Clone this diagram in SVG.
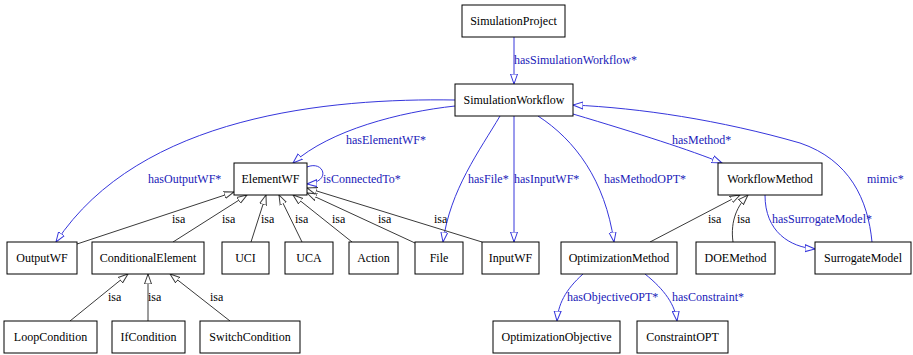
<svg xmlns="http://www.w3.org/2000/svg" width="913" height="355" viewBox="0 0 913 355">
<style>
.n rect{fill:#fff;stroke:#000;stroke-width:1}
.n text{font-family:"Liberation Serif","Times New Roman",serif;font-size:12px;text-anchor:middle;fill:#000}
.b{fill:none;stroke:#3636dc;stroke-width:1;marker-end:url(#ab)}
.k{fill:none;stroke:#3a3a3a;stroke-width:1;marker-end:url(#ak)}
.lb{font-family:"Liberation Serif","Times New Roman",serif;font-size:12px;fill:#2020b8}
.lk{font-family:"Liberation Serif","Times New Roman",serif;font-size:12px;fill:#000}
</style>
<defs>
<marker id="ab" markerUnits="userSpaceOnUse" markerWidth="12" markerHeight="10" refX="10" refY="4" orient="auto" viewBox="0 0 12 8"><path d="M0,0.5 L10,4 L0,7.5 Z" fill="#fff" stroke="#3636dc" stroke-width="1"/></marker>
<marker id="ak" markerUnits="userSpaceOnUse" markerWidth="12" markerHeight="10" refX="10" refY="4" orient="auto" viewBox="0 0 12 8"><path d="M0,0.5 L10,4 L0,7.5 Z" fill="#fff" stroke="#3a3a3a" stroke-width="1"/></marker>
</defs>
<rect width="913" height="355" fill="#fff"/>
<g id="connectors">
<path class="b" d="M514,37 L514,84"/>
<path class="b" d="M455,106 C400,112 330,130 293,163"/>
<path class="b" d="M455,100 C330,98 140,115 56,242"/>
<path class="b" d="M500,116 C480,150 450,190 443,242"/>
<path class="b" d="M514,116 L514,242"/>
<path class="b" d="M538,116 C575,140 605,180 614,242"/>
<path class="b" d="M573,114 C640,134 690,150 722,163"/>
<path class="b" d="M872,242 C868,200 850,160 800,143 C720,120 640,108 573,105"/>
<path class="b" d="M765,195 C765,232 790,247 815,249"/>
<path class="b" d="M583,274 C565,290 558,305 557,321"/>
<path class="b" d="M645,274 C665,290 675,305 677,321"/>
<path class="b" d="M307,167 C324,160 332,182 307,184"/>
<path class="k" d="M77,244 L234,192"/>
<path class="k" d="M173,242 L247,195"/>
<path class="k" d="M251,242 L266,195"/>
<path class="k" d="M302,242 L279,195"/>
<path class="k" d="M352,242 L293,195"/>
<path class="k" d="M415,243 L307,193"/>
<path class="k" d="M482,242 L307,188"/>
<path class="k" d="M70,321 L128,274"/>
<path class="k" d="M148,321 L148,274"/>
<path class="k" d="M230,321 L170,274"/>
<path class="k" d="M650,242 L740,195"/>
<path class="k" d="M733,242 C730,220 738,205 748,195"/>
<text class="lb" x="514" y="64">hasSimulationWorkflow*</text>
<text class="lb" x="346" y="144">hasElementWF*</text>
<text class="lb" x="148" y="183">hasOutputWF*</text>
<text class="lb" x="323" y="183">isConnectedTo*</text>
<text class="lb" x="468" y="183">hasFile*</text>
<text class="lb" x="514" y="183">hasInputWF*</text>
<text class="lb" x="604" y="183">hasMethodOPT*</text>
<text class="lb" x="672" y="144">hasMethod*</text>
<text class="lb" x="867" y="183">mimic*</text>
<text class="lb" x="772" y="223">hasSurrogateModel*</text>
<text class="lb" x="567" y="301">hasObjectiveOPT*</text>
<text class="lb" x="672" y="301">hasConstraint*</text>
<text class="lk" x="172" y="223">isa</text>
<text class="lk" x="222" y="223">isa</text>
<text class="lk" x="261" y="223">isa</text>
<text class="lk" x="295" y="223">isa</text>
<text class="lk" x="332" y="223">isa</text>
<text class="lk" x="378" y="223">isa</text>
<text class="lk" x="434" y="223">isa</text>
<text class="lk" x="108" y="301">isa</text>
<text class="lk" x="148" y="301">isa</text>
<text class="lk" x="210" y="301">isa</text>
<text class="lk" x="708" y="223">isa</text>
<text class="lk" x="737" y="223">isa</text>
</g>
<g id="SimulationProject" class="n"><rect x="462" y="5" width="103" height="32"/><text x="513.5" y="25">SimulationProject</text></g>
<g id="SimulationWorkflow" class="n"><rect x="455" y="84" width="118" height="32"/><text x="514" y="104">SimulationWorkflow</text></g>
<g id="ElementWF" class="n"><rect x="234" y="163" width="73" height="32"/><text x="270.5" y="183">ElementWF</text></g>
<g id="WorkflowMethod" class="n"><rect x="718" y="163" width="104" height="32"/><text x="770" y="183">WorkflowMethod</text></g>
<g id="OutputWF" class="n"><rect x="7" y="242" width="70" height="32"/><text x="42" y="262">OutputWF</text></g>
<g id="ConditionalElement" class="n"><rect x="92" y="242" width="112" height="32"/><text x="148" y="262">ConditionalElement</text></g>
<g id="UCI" class="n"><rect x="222" y="242" width="47" height="32"/><text x="245.5" y="262">UCI</text></g>
<g id="UCA" class="n"><rect x="285" y="242" width="48" height="32"/><text x="309" y="262">UCA</text></g>
<g id="Action" class="n"><rect x="349" y="242" width="49" height="32"/><text x="373.5" y="262">Action</text></g>
<g id="File" class="n"><rect x="415" y="242" width="48" height="32"/><text x="439" y="262">File</text></g>
<g id="InputWF" class="n"><rect x="482" y="242" width="57" height="32"/><text x="510.5" y="262">InputWF</text></g>
<g id="OptimizationMethod" class="n"><rect x="561" y="242" width="116" height="32"/><text x="619" y="262">OptimizationMethod</text></g>
<g id="DOEMethod" class="n"><rect x="696" y="242" width="79" height="32"/><text x="735.5" y="262">DOEMethod</text></g>
<g id="SurrogateModel" class="n"><rect x="815" y="242" width="96" height="32"/><text x="863" y="262">SurrogateModel</text></g>
<g id="LoopCondition" class="n"><rect x="4" y="321" width="93" height="32"/><text x="50.5" y="341">LoopCondition</text></g>
<g id="IfCondition" class="n"><rect x="112" y="321" width="73" height="32"/><text x="148.5" y="341">IfCondition</text></g>
<g id="SwitchCondition" class="n"><rect x="200" y="321" width="100" height="32"/><text x="250" y="341">SwitchCondition</text></g>
<g id="OptimizationObjective" class="n"><rect x="493" y="321" width="127" height="32"/><text x="556.5" y="341">OptimizationObjective</text></g>
<g id="ConstraintOPT" class="n"><rect x="637" y="321" width="91" height="32"/><text x="682.5" y="341">ConstraintOPT</text></g>
</svg>
